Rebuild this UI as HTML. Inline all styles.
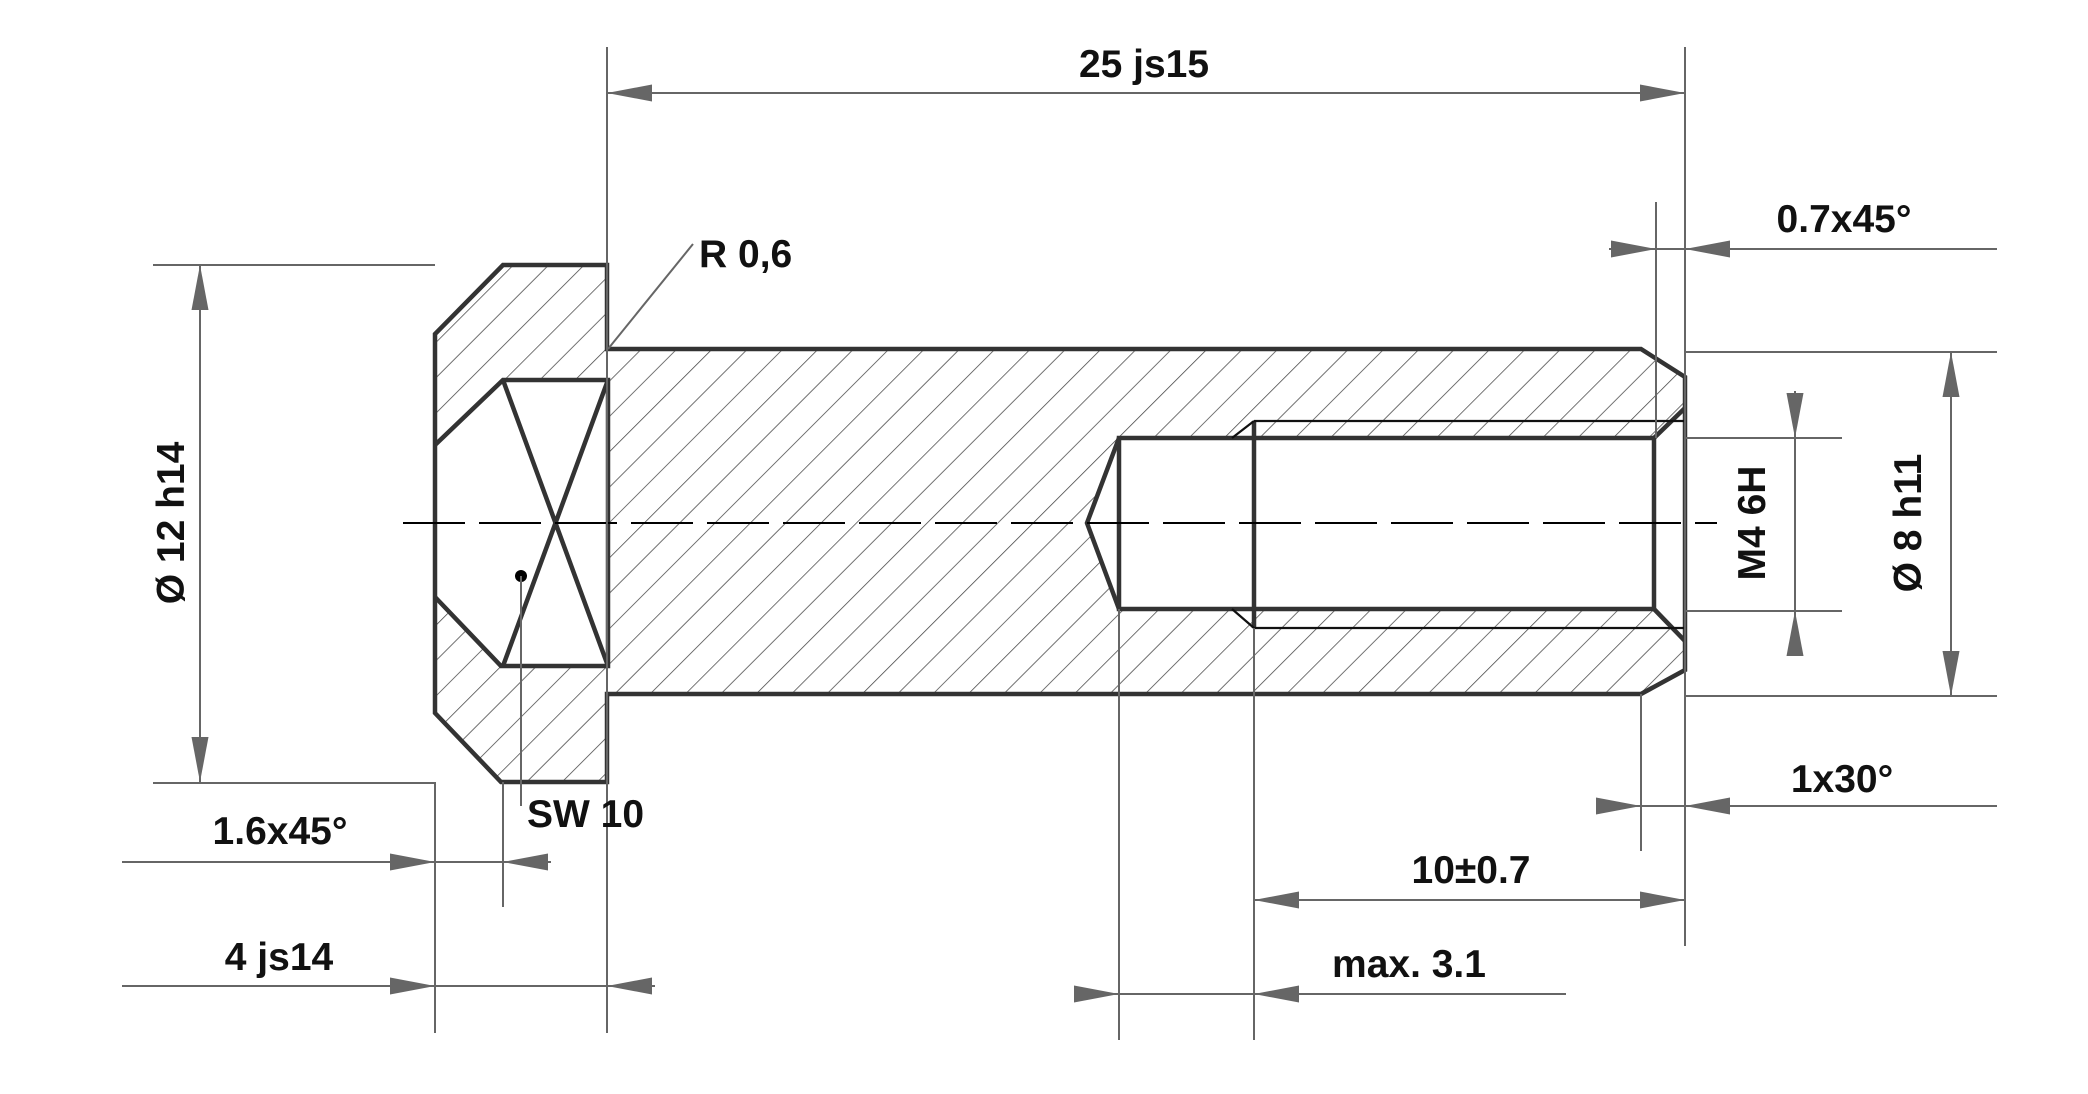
<!DOCTYPE html>
<html><head><meta charset="utf-8"><style>
html,body{margin:0;padding:0;background:#fff}
svg{display:block}
text{font-family:"Liberation Sans",Arial,sans-serif;font-weight:bold;font-size:39px;fill:#111}
</style></head><body>
<svg width="2088" height="1094" viewBox="0 0 2088 1094" xmlns="http://www.w3.org/2000/svg">
<defs>
<pattern id="h" width="25" height="25" patternUnits="userSpaceOnUse" patternTransform="rotate(45)">
<line x1="0" y1="0" x2="0" y2="25" stroke="#444" stroke-width="1.5"/>
</pattern>
<marker id="a" viewBox="0 0 45 17" refX="45" refY="8.5" markerWidth="45" markerHeight="17" markerUnits="userSpaceOnUse" orient="auto-start-reverse">
<path d="M0,0 L45,8.5 L0,17 Z" fill="#666"/>
</marker>
</defs>

<path fill="url(#h)" fill-rule="evenodd" d="M503,265 L607,265 L607,349 L1641,349 L1685,377 L1685,670 L1641,694 L607,694 L607,782 L501,782 L435,713 L435,334 Z
M435,445 L503,380 L608,380 L608,666 L501,666 L435,597 Z
M1087,523 L1119,438 L1654,438 L1685,408 L1685,641 L1654,609 L1119,609 Z"/>

<g fill="none" stroke="#333" stroke-width="4.5" stroke-linejoin="miter">
<path d="M503,265 L607,265 L607,349 L1641,349 L1685,377 L1685,670 L1641,694 L607,694 L607,782 L501,782 L435,713 L435,334 Z"/>
<path d="M435,445 L503,380 L608,380 L608,666 L501,666 L435,597"/>
<path d="M503,380 L608,666 M608,380 L503,666"/>
<path d="M1119,438 L1654,438 L1654,609 L1119,609 Z"/>
<path d="M1119,438 L1087,523 L1119,609"/>
<path d="M1254,421 L1254,628"/>
<path d="M1654,438 L1685,408 M1654,609 L1685,641"/>
</g>
<g stroke="#111" stroke-width="2.2" fill="none">
<path d="M1254,421 L1685,421 M1254,628 L1685,628 M1232,438 L1254,421 M1232,609 L1254,628"/>
</g>
<line x1="403" y1="523" x2="1717" y2="523" stroke="#000" stroke-width="2" stroke-dasharray="62 14"/>
<circle cx="521" cy="576" r="6" fill="#000"/>

<g stroke="#666" stroke-width="2" fill="none">
<path d="M607,47 L607,1033 M1685,47 L1685,946"/>
<path d="M153,265 L435,265 M153,783 L435,783 L435,1033"/>
<path d="M503,782 L503,907"/>
<path d="M521,576 L521,806"/>
<path d="M608,349 L693,244"/>
<path d="M1656,202 L1656,438"/>
<path d="M1685,352 L1997,352 M1685,696 L1997,696"/>
<path d="M1685,438 L1842,438 M1685,611 L1842,611"/>
<path d="M1641,694 L1641,851"/>
<path d="M1119,609 L1119,1040 M1254,628 L1254,1040"/>
</g>

<g stroke="#666" stroke-width="2" fill="none">
<line x1="607" y1="93" x2="1685" y2="93" marker-start="url(#a)" marker-end="url(#a)"/>
<line x1="200" y1="265" x2="200" y2="782" marker-start="url(#a)" marker-end="url(#a)"/>
<line x1="1951" y1="352" x2="1951" y2="696" marker-start="url(#a)" marker-end="url(#a)"/>
<line x1="1254" y1="900" x2="1685" y2="900" marker-start="url(#a)" marker-end="url(#a)"/>
<line x1="122" y1="862" x2="435" y2="862" marker-end="url(#a)"/>
<line x1="435" y1="862" x2="503" y2="862"/>
<line x1="551" y1="862" x2="503" y2="862" marker-end="url(#a)"/>
<line x1="122" y1="986" x2="435" y2="986" marker-end="url(#a)"/>
<line x1="435" y1="986" x2="607" y2="986"/>
<line x1="655" y1="986" x2="607" y2="986" marker-end="url(#a)"/>
<line x1="1609" y1="249" x2="1656" y2="249" marker-end="url(#a)"/>
<line x1="1656" y1="249" x2="1685" y2="249"/>
<line x1="1997" y1="249" x2="1685" y2="249" marker-end="url(#a)"/>
<line x1="1596" y1="806" x2="1641" y2="806" marker-end="url(#a)"/>
<line x1="1641" y1="806" x2="1685" y2="806"/>
<line x1="1997" y1="806" x2="1685" y2="806" marker-end="url(#a)"/>
<line x1="1074" y1="994" x2="1119" y2="994" marker-end="url(#a)"/>
<line x1="1119" y1="994" x2="1254" y2="994"/>
<line x1="1566" y1="994" x2="1254" y2="994" marker-end="url(#a)"/>
<line x1="1795" y1="391" x2="1795" y2="438" marker-end="url(#a)"/>
<line x1="1795" y1="438" x2="1795" y2="611"/>
<line x1="1795" y1="656" x2="1795" y2="611" marker-end="url(#a)"/>
</g>

<text x="1144" y="77" text-anchor="middle">25 js15</text>
<text x="699" y="267">R 0,6</text>
<text x="527" y="827">SW 10</text>
<text x="280" y="844" text-anchor="middle">1.6x45°</text>
<text x="279" y="970" text-anchor="middle">4 js14</text>
<text x="1844" y="232" text-anchor="middle">0.7x45°</text>
<text x="1842" y="792" text-anchor="middle">1x30°</text>
<text x="1471" y="883" text-anchor="middle">10±0.7</text>
<text x="1409" y="977" text-anchor="middle">max. 3.1</text>
<text transform="translate(184,523) rotate(-90)" text-anchor="middle">Ø 12 h14</text>
<text transform="translate(1765,523) rotate(-90)" text-anchor="middle">M4 6H</text>
<text transform="translate(1921,523) rotate(-90)" text-anchor="middle">Ø 8 h11</text>
</svg>
</body></html>
